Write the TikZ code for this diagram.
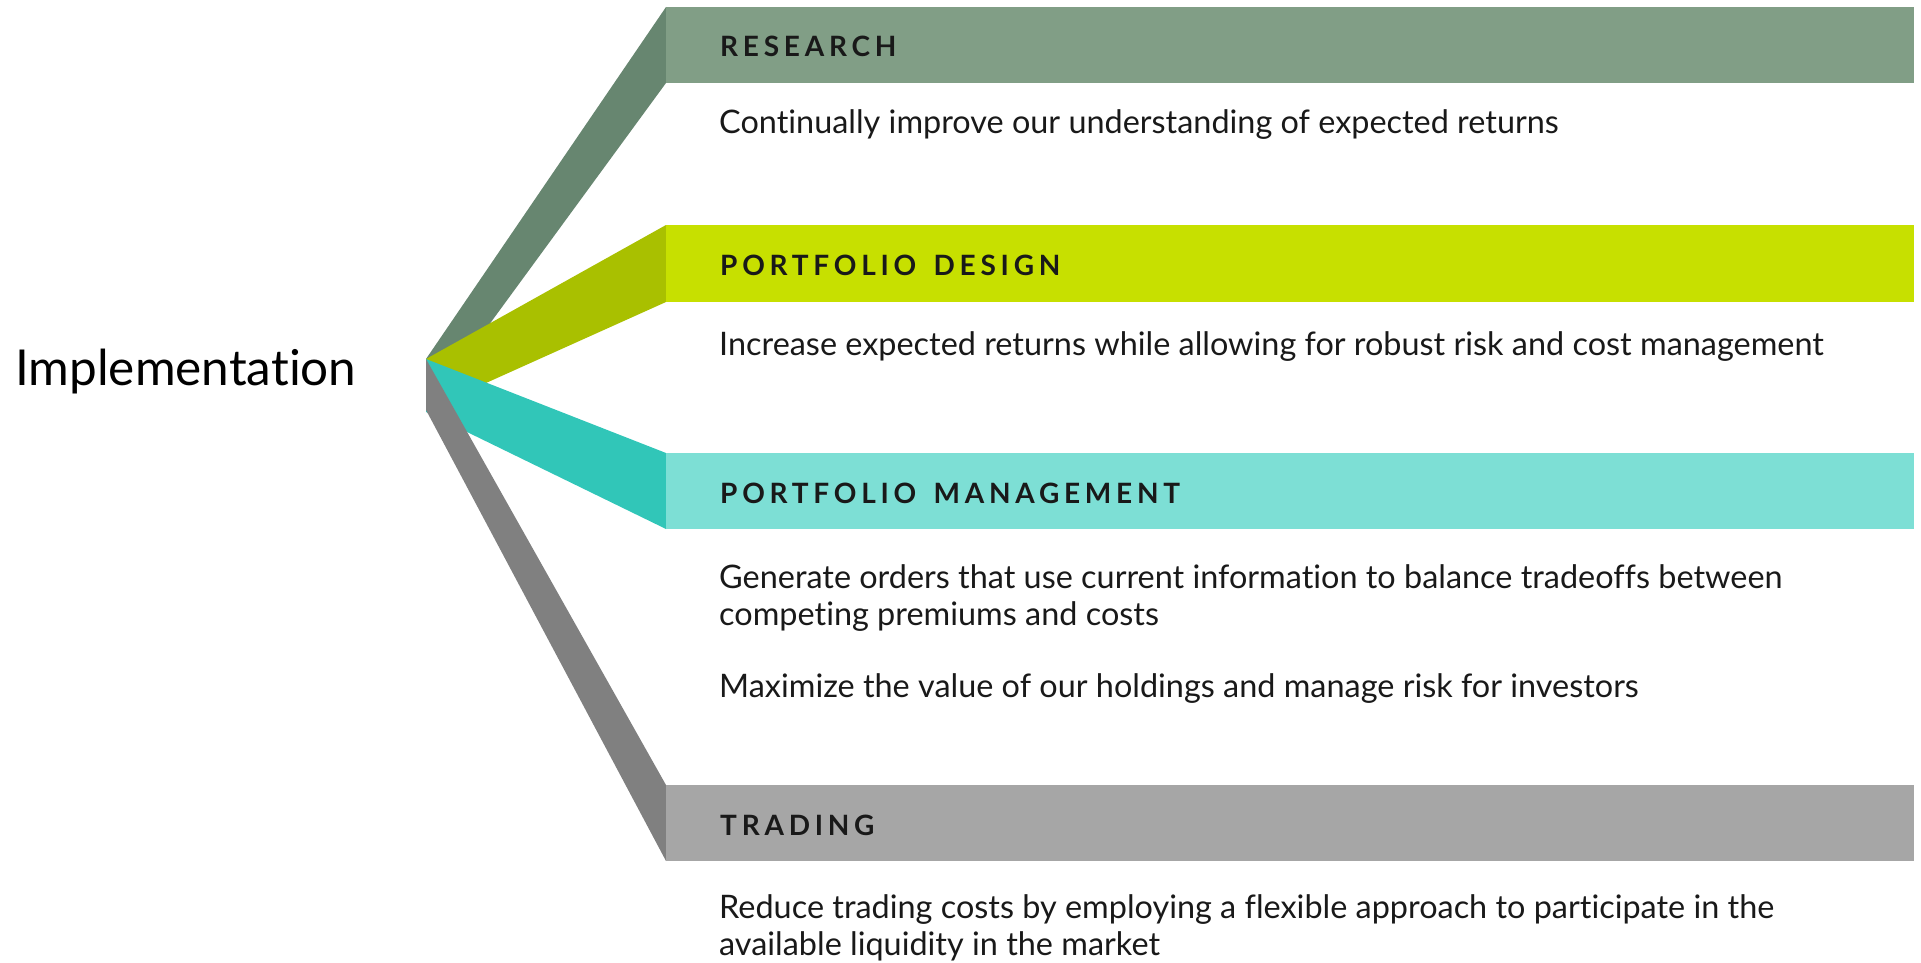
\documentclass[tikz,border=0pt]{standalone}
\usepackage{fontspec}
\setmainfont[Ligatures=NoCommon]{Lato}
\newfontfamily\headfont[LetterSpace=17,WordSpace=1.5]{Lato Bold}
\definecolor{resbar}{HTML}{819E86}
\definecolor{resfan}{HTML}{678670}
\definecolor{pdbar}{HTML}{C7E000}
\definecolor{pdfan}{HTML}{A9C000}
\definecolor{pmbar}{HTML}{7DDFD5}
\definecolor{pmfan}{HTML}{31C6B8}
\definecolor{trbar}{HTML}{A6A6A6}
\definecolor{trfan}{HTML}{808080}
\begin{document}
\begin{tikzpicture}[x=1pt,y=-1pt,
  head/.style={anchor=base west,inner sep=0pt,font=\headfont\fontsize{28}{32}\selectfont,text=black!90},
  body/.style={anchor=base west,inner sep=0pt,font=\fontsize{32.4}{37}\selectfont,text=black!90,align=left},
  bar/.style={draw=none}]
\useasboundingbox (0,0) rectangle (1921,963);
\coordinate (O) at (426,359);
% fans (bottom to top)
\fill[resfan] (O) -- (666,7) -- (666,83) -- (464,359) -- cycle;
\fill[resbar] (666,7) rectangle (1914,83);
\fill[pdfan] (O) -- (666,225) -- (666,302) -- (426,410) -- cycle;
\fill[pdbar] (666,225) rectangle (1914,302);
\fill[pmfan] (O) -- (666,453) -- (666,529) -- (426,412) -- cycle;
\fill[pmbar] (666,453) rectangle (1914,529);
\fill[trfan] (O) -- (666,785) -- (666,861) -- (426,410) -- cycle;
\fill[trbar] (666,785) rectangle (1914,861);
% texts
\node[anchor=base west,inner sep=0pt,font=\fontsize{49.5}{54}\selectfont] (impl) at (15,385) {Implementation};
\node[head] (h1) at (720,57) {RESEARCH};
\node[body] (t1) at (719,133) {Continually improve our understanding of expected returns};
\node[head] (h2) at (720,275) {PORTFOLIO DESIGN};
\node[body] (t2) at (719,355) {Increase expected returns while allowing for robust risk and cost management};
\node[head] (h3) at (720,503) {PORTFOLIO MANAGEMENT};
\node[body] (t3a) at (719,588) {Generate orders that use current information to balance tradeoffs between};
\node[body] (t3b) at (719,625) {competing premiums and costs};
\node[body] (t3c) at (719,697) {Maximize the value of our holdings and manage risk for investors};
\node[head] (h4) at (720,835) {TRADING};
\node[body] (t4a) at (719,918) {Reduce trading costs by employing a flexible approach to participate in the};
\node[body] (t4b) at (719,955) {available liquidity in the market};
\end{tikzpicture}
\end{document}
